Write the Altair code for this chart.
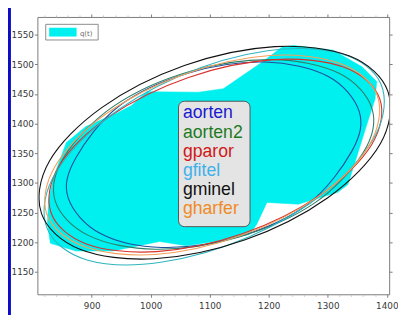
import altair as alt
import pandas as pd

# ---- axes ----
x_domain = [808, 1404]
y_domain = [1112, 1580]
x_ticks = [900, 1000, 1100, 1200, 1300, 1400]
y_ticks = [1150, 1200, 1250, 1300, 1350, 1400, 1450, 1500, 1550]
x_minor = [820, 840, 860, 880, 920, 940, 960, 980, 1020, 1040, 1060, 1080, 1120, 1140, 1160,
           1180, 1220, 1240, 1260, 1280, 1320, 1340, 1360, 1380]

# ---- filled region q(t) ----
poly_x = [825, 827, 835, 857, 890, 943, 968, 993, 1081, 1123, 1189, 1222, 1242,
          1309, 1358, 1383, 1380, 1367, 1350, 1334, 1317, 1250, 1197, 1179, 1167,
          1129, 1060, 1015, 976, 935, 873, 830]
poly_y = [1231, 1272, 1309, 1368, 1395, 1418, 1431, 1454, 1453, 1459, 1504, 1529, 1532,
          1524, 1496, 1471, 1441, 1401, 1347, 1297, 1284, 1264, 1267, 1229, 1213,
          1204, 1194, 1201, 1193, 1185, 1185, 1198]

# ---- fitted ellipses (points read around each curve) ----
series = ["aorten", "aorten2", "gparor", "gfitel", "gminel", "gharfer"]
aorten_x = [1353, 1300, 1194, 1066, 948, 873, 860, 914, 1019, 1148, 1266, 1341]
aorten_y = [1421, 1480, 1504, 1486, 1431, 1342, 1275, 1215, 1191, 1209, 1264, 1354]
aorten2_x = [1375, 1319, 1206, 1066, 938, 854, 838, 895, 1008, 1147, 1276, 1360]
aorten2_y = [1425, 1485, 1508, 1488, 1430, 1345, 1270, 1211, 1188, 1208, 1265, 1351]
gparor_x = [1388, 1328, 1209, 1064, 930, 845, 831, 891, 1010, 1155, 1288, 1374]
gparor_y = [1442, 1495, 1508, 1478, 1412, 1329, 1250, 1197, 1184, 1214, 1280, 1364]
gfitel_x = [1390, 1323, 1198, 1048, 915, 833, 825, 892, 1017, 1167, 1300, 1382]
gfitel_y = [1467, 1518, 1523, 1480, 1401, 1306, 1222, 1170, 1166, 1209, 1288, 1383]
gminel_x = [1402, 1337, 1210, 1057, 917, 828, 815, 880, 1006, 1160, 1300, 1389]
gminel_y = [1454, 1514, 1530, 1498, 1427, 1336, 1248, 1188, 1172, 1204, 1275, 1366]
gharfer_x = [1384, 1322, 1202, 1056, 922, 838, 824, 886, 1007, 1153, 1287, 1371]
gharfer_y = [1447, 1501, 1515, 1483, 1415, 1328, 1247, 1193, 1179, 1211, 1279, 1365]

line_colors = ["#1f4e9c", "#2f7f6a", "#d9312b", "#2fb5c0", "#111111", "#f5a05a"]
line_widths = [1.1, 1.1, 1.1, 1.1, 1.6, 1.1]
text_colors = ["#1a1ad0", "#1e7a1e", "#d01818", "#3fb0ea", "#111111", "#f08a24"]

curves = {
    "aorten": (aorten_x, aorten_y),
    "aorten2": (aorten2_x, aorten2_y),
    "gparor": (gparor_x, gparor_y),
    "gfitel": (gfitel_x, gfitel_y),
    "gminel": (gminel_x, gminel_y),
    "gharfer": (gharfer_x, gharfer_y),
}

rows = []
for name in series:
    xs, ys = curves[name]
    for i, (a, b) in enumerate(zip(xs, ys)):
        rows.append({"series": name, "i": i, "x": a, "y": b})
ell_df = pd.DataFrame(rows)
poly_df = pd.DataFrame({"i": list(range(len(poly_x))), "x": poly_x, "y": poly_y})

W, H = 359, 283
one = pd.DataFrame({"a": [0]})

xscale = alt.Scale(domain=x_domain, nice=False, zero=False)
yscale = alt.Scale(domain=y_domain, nice=False, zero=False)

axis_style = dict(zindex=2, grid=False, title=None, format="d", labelFont="DejaVu Sans",
                  labelFontSize=9, labelColor="#3a3a3a", domainColor="#7a7a7a",
                  tickColor="#7a7a7a", tickSize=3)

panel = alt.Chart(one).mark_rect(color="white").encode(
    x=alt.value(-27), x2=alt.value(W + 60), y=alt.value(-40), y2=alt.value(H + 60))

poly = alt.Chart(poly_df).mark_line(
    interpolate="linear-closed", fill="#00f0f0", stroke="#00f0f0", strokeWidth=0.5
).encode(
    x=alt.X("x:Q", scale=xscale, axis=alt.Axis(orient="bottom", values=x_ticks, labelPadding=5, **axis_style)),
    y=alt.Y("y:Q", scale=yscale, axis=alt.Axis(orient="left", values=y_ticks, labelPadding=1, **axis_style)),
    order="i:Q",
)

ellipses = alt.Chart(ell_df).mark_line(interpolate="cardinal-closed", clip=True).encode(
    x=alt.X("x:Q", scale=xscale, axis=None),
    y=alt.Y("y:Q", scale=yscale, axis=None),
    color=alt.Color("series:N", scale=alt.Scale(domain=series, range=line_colors), legend=None),
    strokeWidth=alt.StrokeWidth("series:N", scale=alt.Scale(domain=series, range=line_widths), legend=None),
    detail="series:N",
    order="i:Q",
)

frame = alt.Chart(pd.DataFrame({"x": [x_domain[0]], "y": [y_domain[0]]})).mark_point(opacity=0).encode(
    x=alt.X("x:Q", scale=xscale, axis=alt.Axis(orient="top", values=x_ticks, labels=False, **axis_style)),
    y=alt.Y("y:Q", scale=yscale, axis=alt.Axis(orient="right", values=y_ticks, labels=False, **axis_style)),
)

minor_style = dict(axis_style)
minor_style.update(tickColor="#c4c4c4", tickSize=2, domain=False, labels=False)
minor = alt.Chart(pd.DataFrame({"x": [x_domain[0]]})).mark_point(opacity=0).encode(
    x=alt.X("x:Q", scale=xscale, axis=alt.Axis(orient="bottom", values=x_minor, **minor_style)),
)
minor_top = alt.Chart(pd.DataFrame({"x": [x_domain[0]]})).mark_point(opacity=0).encode(
    x=alt.X("x:Q", scale=xscale, axis=alt.Axis(orient="top", values=x_minor, **minor_style)),
)

box = alt.Chart(one).mark_rect(
    fill="#e4e4e4", stroke="#555555", strokeWidth=1, cornerRadius=6
).encode(x=alt.value(144), x2=alt.value(217), y=alt.value(86), y2=alt.value(214))

texts = []
for k, (name, col) in enumerate(zip(series, text_colors)):
    texts.append(
        alt.Chart(one).mark_text(
            text=name, align="left", baseline="alphabetic", font="Liberation Sans",
            fontSize=18, color=col
        ).encode(x=alt.value(148.5), y=alt.value(103.5 + 19.6 * k))
    )

qbox = alt.Chart(one).mark_rect(fill="white", stroke="#8a8a8a", strokeWidth=1).encode(
    x=alt.value(8.5), x2=alt.value(62), y=alt.value(7.5), y2=alt.value(23.5))
qswatch = alt.Chart(one).mark_rect(fill="#00f0f0").encode(
    x=alt.value(12), x2=alt.value(40), y=alt.value(11), y2=alt.value(20))
qtext = alt.Chart(one).mark_text(
    text="q(t)", align="left", baseline="alphabetic", font="DejaVu Sans", fontSize=7, color="#666666"
).encode(x=alt.value(43.5), y=alt.value(19))

chart = alt.layer(panel, poly, ellipses, frame, minor, minor_top, box, *texts, qbox, qswatch, qtext).resolve_axis(
    x="independent", y="independent"
).properties(
    width=W, height=H,
    padding={"left": 30, "top": 6, "right": 9, "bottom": 18},
    autosize="none",
).configure(background="#0c0cc4").configure_view(stroke=None)

chart.save("out.html", embed_options={"renderer": "svg", "actions": False})
